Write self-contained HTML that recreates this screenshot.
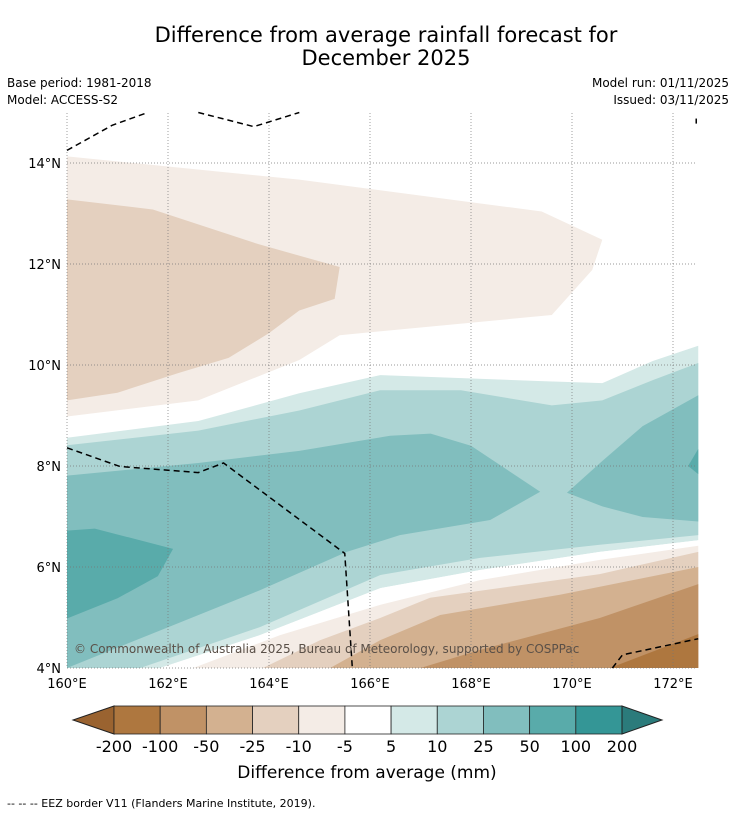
<!DOCTYPE html>
<html><head><meta charset="utf-8"><style>
body{margin:0;background:#fff;width:736px;height:816px;overflow:hidden;font-family:"DejaVu Sans","Liberation Sans",sans-serif}
svg{position:absolute;left:0;top:0}
</style></head><body>
<svg id="s" width="736" height="816">
<text x="386" y="42" text-anchor="middle" font-size="21">Difference from average rainfall forecast for</text>
<text x="386" y="65" text-anchor="middle" font-size="21">December 2025</text>
<text x="7" y="87" font-size="12">Base period: 1981-2018</text>
<text x="7" y="104" font-size="12">Model: ACCESS-S2</text>
<text x="729" y="87" font-size="12" text-anchor="end">Model run: 01/11/2025</text>
<text x="729" y="104" font-size="12" text-anchor="end">Issued: 03/11/2025</text>
<g id="map"></g>
<g id="cb"></g>
<text x="367" y="778" text-anchor="middle" font-size="17">Difference from average (mm)</text>
<text x="7" y="807" font-size="11">--  --  -- EEZ border V11 (Flanders Marine Institute, 2019).</text>
</svg>
<script>
const lonTicks=[160,162,164,166,168,170,172];
const latTicks=[4,6,8,10,12,14];
const levels=["-200","-100","-50","-25","-10","-5","5","10","25","50","100","200"];
const colors=["#9a6330","#ae773f","#c09266","#d3b190","#e4d0bf","#f4ece6","#ffffff","#d4e9e7","#acd4d3","#81bebe","#59abaa","#349696","#2b7b7b"];
const regNeg10=[[160,14.13],[164.6,13.67],[169.4,13.04],[170.6,12.48],[170.4,11.88],[169.6,10.99],[165.4,10.59],[164.6,10.10],[162.6,9.30],[160,8.98]];
const regNeg25=[[160,13.28],[161.7,13.08],[163.8,12.39],[165.4,11.94],[165.3,11.31],[164.6,11.08],[164.0,10.63],[163.2,10.14],[162.2,9.84],[161.0,9.45],[160,9.30]];
const regPos5=[[160,8.56],[162.6,8.89],[164.6,9.44],[166.2,9.80],[169.4,9.68],[170.6,9.64],[171.6,10.08],[172.5,10.38],[172.5,6.53],[170.55,6.30],[168.18,5.94],[166.2,5.58],[163.82,4.65],[161.84,4],[160,4]];
const regPos10=[[160,8.41],[162.6,8.70],[164.6,9.10],[166.2,9.50],[167.8,9.50],[169.6,9.20],[170.6,9.30],[171.6,9.70],[172.5,10.04],[172.5,6.63],[170.55,6.44],[168.18,6.18],[166.2,5.84],[163.82,4.81],[161.45,4],[160,4]];
const regPos25=[[160,7.81],[162.6,8.06],[164.6,8.30],[166.4,8.60],[167.2,8.64],[168.0,8.40],[169.37,7.49],[168.38,6.93],[166.59,6.63],[165.54,6.30],[163.82,5.54],[160,4]];
const regPos25b=[[169.9,7.47],[170.6,8.10],[171.4,8.79],[172.5,9.40],[172.5,6.90],[171.4,6.99],[170.6,7.20]];
const regPos50=[[160,6.72],[160.55,6.76],[162.1,6.36],[161.8,5.82],[161.0,5.38],[160,4.98]];
const regPos50b=[[172.3,8.0],[172.5,8.34],[172.5,7.84]];
const regWhiteS=[[161.84,4],[163.82,4.65],[166.2,5.58],[168.18,5.94],[170.55,6.30],[172.5,6.53],[172.5,4]];
const regNeg10b=[[162.5,4],[164.22,4.65],[166.2,5.25],[168.18,5.74],[170.55,6.14],[172.5,6.42],[172.5,4]];
const regNeg25b=[[163.88,4],[165.01,4.55],[166.2,4.99],[167.19,5.39],[170.55,5.86],[172.5,6.30],[172.5,4]];
const regNeg50b=[[165.21,4],[166.2,4.55],[167.39,5.05],[169.76,5.45],[172.5,6.0],[172.5,4]];
const regNeg100b=[[167.0,4],[168.18,4.36],[170.55,4.99],[172.5,5.66],[172.5,4]];
const regNeg200b=[[170.75,4],[172.5,4.67],[172.5,4]];
const eez1=[[160,14.25],[160.9,14.75],[161.6,15]];const eez2=[[162.6,15],[163.7,14.72],[164.6,15]];
const eez3=[[160,8.36],[161.05,7.99],[162.6,7.87],[163.1,8.06],[165.5,6.27],[165.65,4]];
const eez4=[[170.8,4],[171.0,4.26],[172.5,4.58]];
const eez5=[[172.46,14.88],[172.46,14.78]];
const X=lon=>67+(lon-160)*50.5, Y=lat=>668-(lat-4)*50.5;
const NS="http://www.w3.org/2000/svg";
const map=document.getElementById('map');
function poly(pts,fill,name){const p=document.createElementNS(NS,'polygon');p.setAttribute('points',pts.map(q=>X(q[0])+','+Y(q[1])).join(' '));p.setAttribute('fill',fill);


map.appendChild(p);}
function line(pts,name){const p=document.createElementNS(NS,'polyline');p.setAttribute('points',pts.map(q=>X(q[0])+','+Y(q[1])).join(' '));p.setAttribute('fill','none');p.setAttribute('stroke','#000');p.setAttribute('stroke-width','1.5');p.setAttribute('stroke-dasharray','6,4');


map.appendChild(p);}
const bg=document.createElementNS(NS,'rect');bg.setAttribute('x',67);bg.setAttribute('y',113);bg.setAttribute('width',630);bg.setAttribute('height',555);bg.setAttribute('fill','#fff');


map.appendChild(bg);
poly(regNeg10,colors[5],'dry-region-minus10');
poly(regNeg25,colors[4],'dry-region-minus25');
poly(regPos5,colors[7],'wet-region-plus5');
poly(regPos10,colors[8],'wet-region-plus10');
poly(regPos25,colors[9],'wet-region-plus25');
poly(regPos25b,colors[9],'wet-region-plus25-east');
poly(regPos50,colors[10],'wet-region-plus50');
poly(regPos50b,colors[10],'wet-region-plus50-east');
poly(regWhiteS,colors[6],'south-neutral');
poly(regNeg10b,colors[5],'south-dry-minus10');
poly(regNeg25b,colors[4],'south-dry-minus25');
poly(regNeg50b,colors[3],'south-dry-minus50');
poly(regNeg100b,colors[2],'south-dry-minus100');
poly(regNeg200b,colors[1],'south-dry-minus200');
lonTicks.forEach(l=>{const g=document.createElementNS(NS,'line');g.setAttribute('x1',X(l));g.setAttribute('x2',X(l));g.setAttribute('y1',113);g.setAttribute('y2',668);g.setAttribute('stroke','#777');g.setAttribute('stroke-width','0.7');g.setAttribute('stroke-dasharray','1,2');


map.appendChild(g);
const t=document.createElementNS(NS,'text');t.setAttribute('x',X(l));t.setAttribute('y',688);t.setAttribute('text-anchor','middle');t.setAttribute('font-size','13');t.textContent=l+'°E';


map.appendChild(t);});
latTicks.forEach(l=>{const g=document.createElementNS(NS,'line');g.setAttribute('x1',67);g.setAttribute('x2',697);g.setAttribute('y1',Y(l));g.setAttribute('y2',Y(l));g.setAttribute('stroke','#777');g.setAttribute('stroke-width','0.7');g.setAttribute('stroke-dasharray','1,2');


map.appendChild(g);
const t=document.createElementNS(NS,'text');t.setAttribute('x',61);t.setAttribute('y',Y(l)+5);t.setAttribute('text-anchor','end');t.setAttribute('font-size','13');t.textContent=l+'°N';


map.appendChild(t);});
line(eez1,'eez-border');line(eez2,'eez-border');line(eez3,'eez-border');line(eez4,'eez-border');line(eez5,'eez-border');
const cp=document.createElementNS(NS,'text');cp.setAttribute('x',74);cp.setAttribute('y',653);cp.setAttribute('font-size','12');cp.setAttribute('fill','#5a5048');cp.textContent='© Commonwealth of Australia 2025, Bureau of Meteorology, supported by COSPPac';


map.appendChild(cp);
const cb=document.getElementById('cb');const x0=114,x1=622,y0=706,h=28;const nb=levels.length-1;const w=(x1-x0)/nb;
const lt=document.createElementNS(NS,'polygon');lt.setAttribute('points',`${x0},${y0} 73,${y0+h/2} ${x0},${y0+h}`);lt.setAttribute('fill',colors[0]);lt.setAttribute('stroke','#222');


cb.appendChild(lt);
for(let i=0;i<nb;i++){const r=document.createElementNS(NS,'rect');r.setAttribute('x',x0+i*w);r.setAttribute('y',y0);r.setAttribute('width',w);r.setAttribute('height',h);r.setAttribute('fill',colors[i+1]);r.setAttribute('stroke','#222');r.setAttribute('stroke-width','0.8');


cb.appendChild(r);}
const rt=document.createElementNS(NS,'polygon');rt.setAttribute('points',`${x1},${y0} 662,${y0+h/2} ${x1},${y0+h}`);rt.setAttribute('fill',colors[12]);rt.setAttribute('stroke','#222');


cb.appendChild(rt);
levels.forEach((lv,i)=>{const t=document.createElementNS(NS,'text');t.setAttribute('x',x0+i*w);t.setAttribute('y',752);t.setAttribute('text-anchor','middle');t.setAttribute('font-size','16');t.textContent=lv;


cb.appendChild(t);});
</script>
</body></html>
